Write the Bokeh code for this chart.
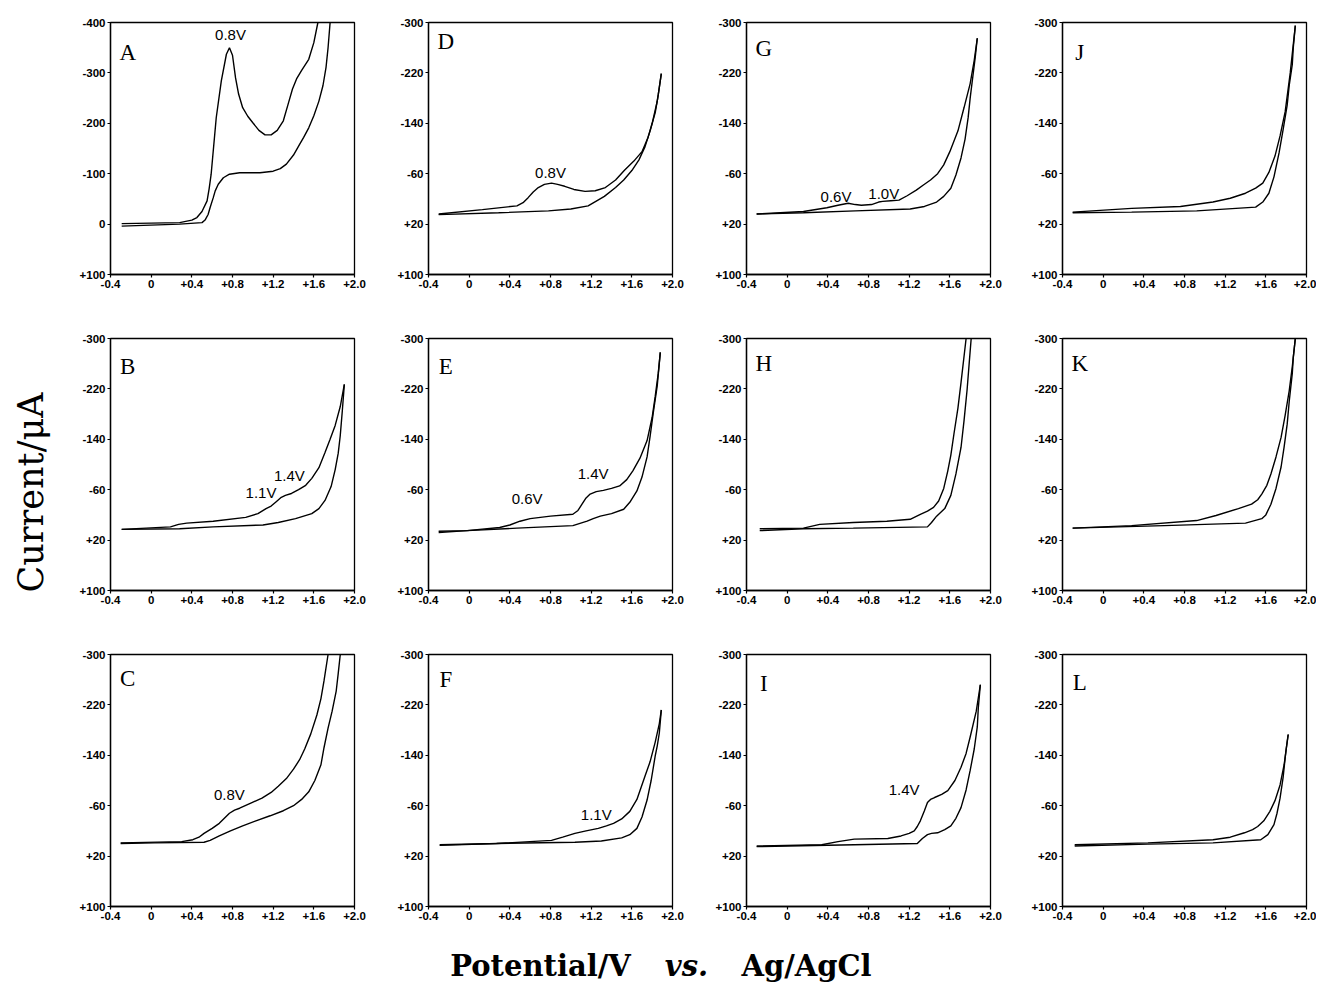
from math import pi
from bokeh.plotting import figure
from bokeh.layouts import row, column
from bokeh.models import Range1d, FixedTicker, PrintfTickFormatter
from bokeh.core.properties import value
from bokeh.embed import file_html
from bokeh.resources import INLINE

# ---------------- data: potential (V) and current (uA), forward (upper) / reverse (lower) scans
A_fwd_E = [-0.29, 0.0, 0.28, 0.40, 0.45, 0.50, 0.55, 0.57, 0.59, 0.64, 0.69, 0.74, 0.77, 0.80, 0.83, 0.86, 0.90, 0.95, 1.00, 1.06, 1.12, 1.18, 1.24, 1.30, 1.35, 1.39, 1.43, 1.48, 1.55, 1.60, 1.64]
A_fwd_I = [-1, -2, -3, -8, -13, -25, -46, -70, -99, -211, -284, -337, -350, -335, -290, -258, -231, -214, -201, -186, -177, -177, -186, -205, -240, -268, -288, -305, -327, -360, -400]
A_rev_E = [1.76, 1.74, 1.72, 1.69, 1.65, 1.60, 1.55, 1.50, 1.46, 1.40, 1.33, 1.27, 1.20, 1.07, 0.87, 0.77, 0.71, 0.66, 0.63, 0.61, 0.58, 0.56, 0.53, 0.50, 0.28, -0.29]
A_rev_I = [-400, -350, -311, -275, -244, -215, -191, -172, -158, -137, -119, -110, -105, -102, -102, -99, -92, -79, -66, -52, -33, -19, -8, -3, 0, 4]

B_fwd_E = [-0.29, 0.19, 0.27, 0.35, 0.61, 0.93, 1.05, 1.13, 1.18, 1.23, 1.28, 1.32, 1.38, 1.45, 1.52, 1.58, 1.65, 1.71, 1.76, 1.81, 1.86, 1.90]
B_fwd_I = [3, -1, -5, -7, -10, -16, -22, -30, -34, -41, -48, -51, -54, -60, -67, -78, -95, -119, -140, -162, -192, -227]
B_rev_E = [1.90, 1.88, 1.86, 1.84, 1.81, 1.77, 1.71, 1.65, 1.58, 1.42, 1.25, 1.10, 0.61, 0.28, -0.29]
B_rev_I = [-227, -185, -146, -118, -92, -65, -43, -30, -22, -14, -8, -4, -1, 2, 3]

C_fwd_E = [-0.30, 0.30, 0.41, 0.47, 0.52, 0.60, 0.67, 0.72, 0.77, 0.82, 0.87, 0.98, 1.09, 1.18, 1.25, 1.33, 1.40, 1.46, 1.51, 1.57, 1.63, 1.67, 1.70, 1.74]
C_fwd_I = [-1, -3, -6, -10, -16, -24, -32, -40, -48, -53, -56, -64, -72, -81, -91, -103, -118, -133, -150, -174, -204, -230, -258, -300]
C_rev_E = [1.86, 1.84, 1.82, 1.78, 1.74, 1.70, 1.67, 1.61, 1.55, 1.48, 1.40, 1.30, 1.17, 1.03, 0.90, 0.78, 0.67, 0.58, 0.52, 0.03, -0.30]
C_rev_I = [-300, -270, -242, -210, -183, -152, -125, -100, -82, -70, -60, -52, -44, -36, -28, -20, -12, -5, -2, -1, 0]

D_fwd_E = [-0.30, 0.13, 0.47, 0.53, 0.58, 0.63, 0.68, 0.74, 0.81, 0.87, 0.94, 1.03, 1.14, 1.24, 1.34, 1.44, 1.53, 1.62, 1.70, 1.76, 1.80, 1.85, 1.89]
D_fwd_I = [4, -3, -9, -14, -22, -31, -38, -43, -45, -43, -40, -35, -32, -33, -38, -50, -66, -80, -95, -118, -140, -175, -219]
D_rev_E = [1.89, 1.86, 1.83, 1.78, 1.73, 1.67, 1.60, 1.52, 1.44, 1.33, 1.17, 1.00, 0.78, 0.29, -0.30]
D_rev_I = [-219, -185, -157, -128, -103, -82, -65, -50, -38, -24, -9, -4, -1, 2, 5]

E_fwd_E = [-0.30, -0.02, 0.30, 0.40, 0.50, 0.60, 0.80, 1.02, 1.07, 1.11, 1.15, 1.19, 1.25, 1.32, 1.40, 1.48, 1.55, 1.61, 1.68, 1.75, 1.80, 1.83, 1.86, 1.88]
E_fwd_I = [6, 5, 0, -4, -10, -14, -18, -21, -27, -37, -47, -53, -57, -59, -62, -66, -76, -90, -110, -138, -175, -208, -245, -278]
E_rev_E = [1.88, 1.85, 1.81, 1.78, 1.75, 1.70, 1.65, 1.58, 1.52, 1.40, 1.29, 1.22, 1.16, 1.02, 0.47, -0.02, -0.30]
E_rev_I = [-278, -225, -181, -145, -112, -80, -58, -40, -29, -22, -18, -14, -10, -3, 1, 5, 8]

F_fwd_E = [-0.29, 0.27, 0.81, 0.92, 1.04, 1.15, 1.27, 1.35, 1.42, 1.50, 1.58, 1.65, 1.73, 1.78, 1.83, 1.87, 1.89]
F_fwd_I = [2, 0, -5, -10, -16, -20, -24, -28, -32, -39, -51, -70, -107, -130, -161, -190, -212]
F_rev_E = [1.89, 1.87, 1.85, 1.83, 1.79, 1.75, 1.70, 1.65, 1.58, 1.50, 1.30, 1.04, 0.27, -0.29]
F_rev_I = [-212, -175, -155, -139, -100, -69, -42, -24, -14, -9, -4, -2, 0, 3]

G_fwd_E = [-0.30, 0.16, 0.39, 0.50, 0.60, 0.67, 0.73, 0.83, 0.90, 0.94, 1.02, 1.10, 1.18, 1.27, 1.34, 1.41, 1.48, 1.54, 1.60, 1.68, 1.74, 1.80, 1.84, 1.87]
G_fwd_I = [4, 0, -6, -10, -13, -11, -10, -11, -15, -16, -17, -18, -25, -34, -42, -50, -60, -74, -95, -128, -165, -203, -240, -275]
G_rev_E = [1.87, 1.85, 1.83, 1.80, 1.78, 1.75, 1.71, 1.66, 1.61, 1.54, 1.47, 1.35, 1.21, 0.67, 0.16, -0.30]
G_rev_I = [-275, -245, -219, -180, -149, -115, -85, -58, -37, -24, -15, -8, -4, -1, 2, 4]

H_fwd_E = [-0.27, 0.16, 0.32, 0.65, 0.98, 1.21, 1.31, 1.38, 1.44, 1.49, 1.54, 1.58, 1.61, 1.64, 1.68, 1.71, 1.76]
H_fwd_I = [2, 1, -5, -8, -10, -13, -21, -26, -32, -42, -62, -90, -115, -148, -190, -230, -300]
H_rev_E = [1.81, 1.79, 1.77, 1.74, 1.71, 1.66, 1.61, 1.55, 1.47, 1.42, 1.38, 0.65, 0.16, -0.27]
H_rev_I = [-300, -260, -219, -170, -127, -85, -51, -30, -18, -8, -1, 1, 2, 5]

I_fwd_E = [-0.30, 0.34, 0.50, 0.66, 0.99, 1.12, 1.20, 1.25, 1.28, 1.31, 1.35, 1.38, 1.41, 1.45, 1.52, 1.58, 1.65, 1.71, 1.76, 1.80, 1.86, 1.90]
I_fwd_I = [4, 2, -3, -7, -8, -12, -16, -20, -27, -36, -52, -65, -70, -73, -78, -84, -100, -121, -143, -169, -210, -252]
I_rev_E = [1.90, 1.88, 1.87, 1.84, 1.80, 1.76, 1.71, 1.66, 1.61, 1.55, 1.48, 1.42, 1.38, 1.33, 1.28, 0.66, -0.30]
I_rev_I = [-252, -215, -185, -150, -116, -85, -57, -40, -28, -22, -17, -16, -14, -8, 0, 2, 5]

J_fwd_E = [-0.30, 0.28, 0.76, 1.08, 1.25, 1.40, 1.50, 1.57, 1.63, 1.69, 1.74, 1.79, 1.84, 1.89]
J_fwd_I = [1, -5, -8, -15, -21, -29, -37, -45, -62, -88, -120, -158, -220, -295]
J_rev_E = [1.89, 1.87, 1.86, 1.83, 1.81, 1.77, 1.73, 1.68, 1.63, 1.57, 1.50, 0.92, 0.28, -0.30]
J_rev_I = [-295, -260, -233, -200, -169, -130, -93, -55, -29, -15, -7, -1, 1, 2]

K_fwd_E = [-0.30, 0.28, 0.92, 1.11, 1.33, 1.46, 1.52, 1.56, 1.61, 1.65, 1.70, 1.75, 1.79, 1.83, 1.86, 1.89]
K_fwd_I = [1, -3, -11, -19, -30, -37, -44, -53, -67, -85, -112, -143, -178, -217, -255, -300]
K_rev_E = [1.89, 1.87, 1.86, 1.83, 1.81, 1.78, 1.75, 1.70, 1.65, 1.60, 1.56, 1.40, 0.60, -0.30]
K_rev_I = [-300, -270, -244, -200, -164, -128, -96, -62, -37, -20, -14, -7, -3, 1]

L_fwd_E = [-0.28, 0.44, 1.08, 1.25, 1.39, 1.47, 1.52, 1.58, 1.64, 1.69, 1.74, 1.78, 1.82]
L_fwd_I = [2, -1, -6, -10, -17, -22, -27, -36, -51, -68, -93, -125, -173]
L_rev_E = [1.82, 1.80, 1.79, 1.77, 1.74, 1.71, 1.68, 1.62, 1.55, 1.08, 0.44, -0.28]
L_rev_I = [-173, -150, -136, -105, -72, -48, -30, -14, -6, -1, 1, 4]

# peak annotations: (text, potential, current)
A_notes = [("0.8V", 0.78, -377)]
B_notes = [("1.4V", 1.36, -82), ("1.1V", 1.08, -56)]
C_notes = [("0.8V", 0.77, -77)]
D_notes = [("0.8V", 0.80, -62)]
E_notes = [("1.4V", 1.22, -86), ("0.6V", 0.57, -46)]
F_notes = [("1.1V", 1.25, -46)]
G_notes = [("0.6V", 0.48, -24), ("1.0V", 0.95, -29)]
H_notes = []
I_notes = [("1.4V", 1.15, -85)]
J_notes = []
K_notes = []
L_notes = []

x_ticks = [-0.4, 0.0, 0.4, 0.8, 1.2, 1.6, 2.0]
y_ticks_A = [-400, -300, -200, -100, 0, 100]
y_ticks = [-300, -220, -140, -60, 20, 100]

panels = {
    "A": (A_fwd_E, A_fwd_I, A_rev_E, A_rev_I, A_notes, -400, y_ticks_A, -340),
    "B": (B_fwd_E, B_fwd_I, B_rev_E, B_rev_I, B_notes, -300, y_ticks, -255),
    "C": (C_fwd_E, C_fwd_I, C_rev_E, C_rev_I, C_notes, -300, y_ticks, -262),
    "D": (D_fwd_E, D_fwd_I, D_rev_E, D_rev_I, D_notes, -300, y_ticks, -270),
    "E": (E_fwd_E, E_fwd_I, E_rev_E, E_rev_I, E_notes, -300, y_ticks, -255),
    "F": (F_fwd_E, F_fwd_I, F_rev_E, F_rev_I, F_notes, -300, y_ticks, -260),
    "G": (G_fwd_E, G_fwd_I, G_rev_E, G_rev_I, G_notes, -300, y_ticks, -258),
    "H": (H_fwd_E, H_fwd_I, H_rev_E, H_rev_I, H_notes, -300, y_ticks, -260),
    "I": (I_fwd_E, I_fwd_I, I_rev_E, I_rev_I, I_notes, -300, y_ticks, -254),
    "J": (J_fwd_E, J_fwd_I, J_rev_E, J_rev_I, J_notes, -300, y_ticks, -252),
    "K": (K_fwd_E, K_fwd_I, K_rev_E, K_rev_I, K_notes, -300, y_ticks, -260),
    "L": (L_fwd_E, L_fwd_I, L_rev_E, L_rev_I, L_notes, -300, y_ticks, -255),
}

layout_rows = [["A", "D", "G", "J"], ["B", "E", "H", "K"], ["C", "F", "I", "L"]]
col_widths = [318, 318, 316, 304]
col_right = [24, 24, 22, 10]
row_heights = [324, 316, 294]
row_top = [22, 14, 14]
row_bottom = [50, 50, 28]
ylab_w = 60


def make_panel(name, w, h, tb, rb, bb):
    fE, fI, rE, rI, notes, ytop, yt, letter_y = panels[name]
    p = figure(width=w, height=h, x_range=Range1d(-0.4, 2.0), y_range=Range1d(100, ytop),
               output_backend="svg", toolbar_location=None,
               min_border_left=50, min_border_right=rb, min_border_top=tb, min_border_bottom=bb)
    p.grid.visible = False
    p.background_fill_color = "white"
    p.border_fill_color = "white"
    p.outline_line_color = "black"
    p.outline_line_width = 1.3
    p.outline_line_alpha = 1.0
    p.xaxis.ticker = FixedTicker(ticks=x_ticks)
    p.xaxis.formatter = PrintfTickFormatter(format="%+.1f")
    p.xaxis.major_label_overrides = {0: "0"}
    p.yaxis.ticker = FixedTicker(ticks=yt)
    p.yaxis.formatter = PrintfTickFormatter(format="%+d")
    p.yaxis.major_label_overrides = {0: "0"}
    for ax in (p.xaxis, p.yaxis):
        ax.axis_line_color = "black"
        ax.axis_line_width = 1.3
        ax.major_tick_line_color = "black"
        ax.major_tick_line_width = 1.2
        ax.major_tick_out = 3
        ax.major_tick_in = 0
        ax.minor_tick_line_color = None
        ax.major_label_text_font = "Liberation Sans"
        ax.major_label_text_font_style = "bold"
        ax.major_label_text_font_size = "11.5px"
        ax.major_label_text_color = "black"
        ax.major_label_standoff = 2
    p.line(fE, fI, line_color="black", line_width=1.4)
    p.line(rE, rI, line_color="black", line_width=1.4)
    if notes:
        p.text(x=[n[1] for n in notes], y=[n[2] for n in notes], text=[n[0] for n in notes],
               text_font=value("Liberation Sans"), text_font_size="15px", text_color="black",
               text_align="center", text_baseline="middle")
    p.text(x=[-0.23], y=[letter_y], text=[name], text_font=value("Liberation Serif"),
           text_font_size="23px", text_color="black", text_align="center", text_baseline="middle")
    return p


grid_rows = []
for ri, names in enumerate(layout_rows):
    figs = []
    for ci, nm in enumerate(names):
        figs.append(make_panel(nm, col_widths[ci], row_heights[ri], row_top[ri], col_right[ci], row_bottom[ri]))
    grid_rows.append(row(*figs))

total_rows_h = sum(row_heights)
total_w = ylab_w + sum(col_widths)

ylab = figure(width=ylab_w, height=total_rows_h, x_range=Range1d(0, ylab_w), y_range=Range1d(0, total_rows_h),
              output_backend="svg", toolbar_location=None, min_border=0)
ylab.axis.visible = False
ylab.grid.visible = False
ylab.outline_line_color = None
ylab.text(x=[30], y=[total_rows_h - 492], text=["Current/μA"], angle=pi / 2,
          text_font=value("DejaVu Serif"), text_font_size="35px", text_color="black",
          text_align="center", text_baseline="middle")

xl_h = 50
xlab = figure(width=total_w, height=xl_h, x_range=Range1d(0, total_w), y_range=Range1d(0, xl_h),
              output_backend="svg", toolbar_location=None, min_border=0)
xlab.axis.visible = False
xlab.grid.visible = False
xlab.outline_line_color = None
xlab.text(x=[540], y=[19], text=["Potential/V"], text_font=value("DejaVu Serif"),
          text_font_style="bold", text_font_size="29px", text_color="black",
          text_align="center", text_baseline="middle")
xlab.text(x=[686], y=[19], text=["vs."], text_font=value("DejaVu Serif"),
          text_font_style="bold italic", text_font_size="29px", text_color="black",
          text_align="center", text_baseline="middle")
xlab.text(x=[806], y=[19], text=["Ag/AgCl"], text_font=value("DejaVu Serif"),
          text_font_style="bold", text_font_size="29px", text_color="black",
          text_align="center", text_baseline="middle")

p = column(row(ylab, column(*grid_rows)), xlab)

open("out.html", "w").write(file_html(p, INLINE))
